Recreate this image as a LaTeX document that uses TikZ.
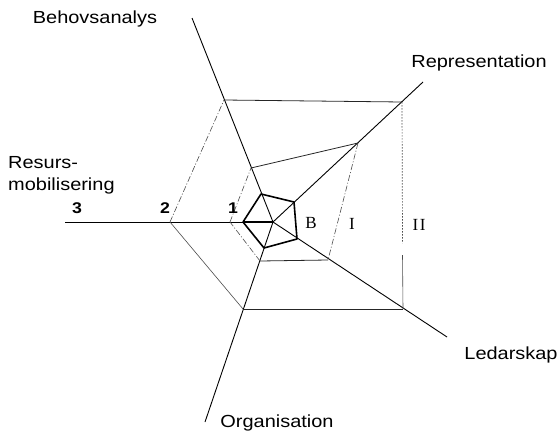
\documentclass[tikz,border=0pt]{standalone}
\usepackage{fontspec}
\newfontfamily\labfont[FakeStretch=1.14]{Liberation Sans}
\newfontfamily\serfont{Liberation Serif}
\begin{document}
\begin{tikzpicture}[x=1pt,y=-1pt,
  axis/.style={line width=0.9pt,black},
  inner/.style={line width=1.6pt,black},
  thinsolid/.style={line width=0.8pt,black!85},
  faint/.style={line width=0.6pt,black!70},
  dashline/.style={line width=0.6pt,black!70,dash pattern=on 6pt off 2pt on 1pt off 2pt},
  dotline/.style={line width=0.7pt,black!70,dash pattern=on 1.5pt off 1.5pt},
  lab/.style={font=\labfont\fontsize{17.5}{20}\selectfont,inner sep=0pt},
  num/.style={font=\labfont\bfseries\fontsize{15.5}{17}\selectfont,inner sep=0pt},
  ser/.style={font=\serfont\fontsize{17}{19}\selectfont,inner sep=0pt}]
\useasboundingbox (0,0) rectangle (559,431);
% centre and axis ends
\coordinate (c) at (273,222);
\coordinate (eB) at (192,18);
\coordinate (eR) at (423,82);
\coordinate (eL) at (447,337);
\coordinate (eO) at (205,422);
\coordinate (eM) at (65,222);
% outer polygon (II)
\coordinate (o1) at (224,100);
\coordinate (o2) at (402,102);
\coordinate (o3) at (403,309);
\coordinate (o4) at (243,309);
\coordinate (o5) at (170,222);
\coordinate (g1) at (402.5,243);
\coordinate (g2) at (402.5,255);
% middle polygon (I)
\coordinate (m1) at (251,168);
\coordinate (m2) at (358,143);
\coordinate (m3) at (328,260);
\coordinate (m4) at (260,261);
\coordinate (m5) at (230,222);
% inner polygon (B)
\coordinate (i1) at (261,194);
\coordinate (i2) at (294,202);
\coordinate (i3) at (297,239);
\coordinate (i4) at (264,248);
\coordinate (i5) at (243,222);
% axes
\draw[axis] (c) -- (eB);
\draw[axis] (c) -- (eR);
\draw[axis] (c) -- (eL);
\draw[axis] (c) -- (eO);
\draw[axis] (c) -- (eM);
% outer polygon
\draw[thinsolid] (o1) -- (o2);
\draw[dotline] (o2) -- (g1);
\draw[faint] (g2) -- (o3);
\draw[thinsolid] (o3) -- (o4);
\draw[faint] (o4) -- (o5);
\draw[dashline] (o5) -- (o1);
% middle polygon
\draw[thinsolid] (m1) -- (m2);
\draw[dashline] (m2) -- (m3);
\draw[thinsolid] (m3) -- (m4);
\draw[dashline] (m4) -- (m5);
\draw[dashline] (m5) -- (m1);
% inner polygon
\draw[inner,line join=round] (i1) -- (i2) -- (i3) -- (i4) -- (i5) -- cycle;
\draw[inner] (i5) -- (c);
% labels
\node[lab] (tB) at (95,19) {Behovsanalys};
\node[lab] (tR) at (479,63) {Representation};
\node[lab,anchor=west] (tM1) at (8,163) {Resurs-};
\node[lab,anchor=west] (tM2) at (8,186) {mobilisering};
\node[lab] (tL) at (511,355) {Ledarskap};
\node[lab] (tO) at (277,423) {Organisation};
\node[num] (n3) at (77,208) {3};
\node[num] (n2) at (165,208) {2};
\node[num] (n1) at (233,208) {1};
\node[ser] (sB) at (311,223) {B};
\node[ser] (sI) at (352,224) {I};
\node[ser] (sII) at (419,225) {I\kern1.5pt I};
\end{tikzpicture}
\end{document}
